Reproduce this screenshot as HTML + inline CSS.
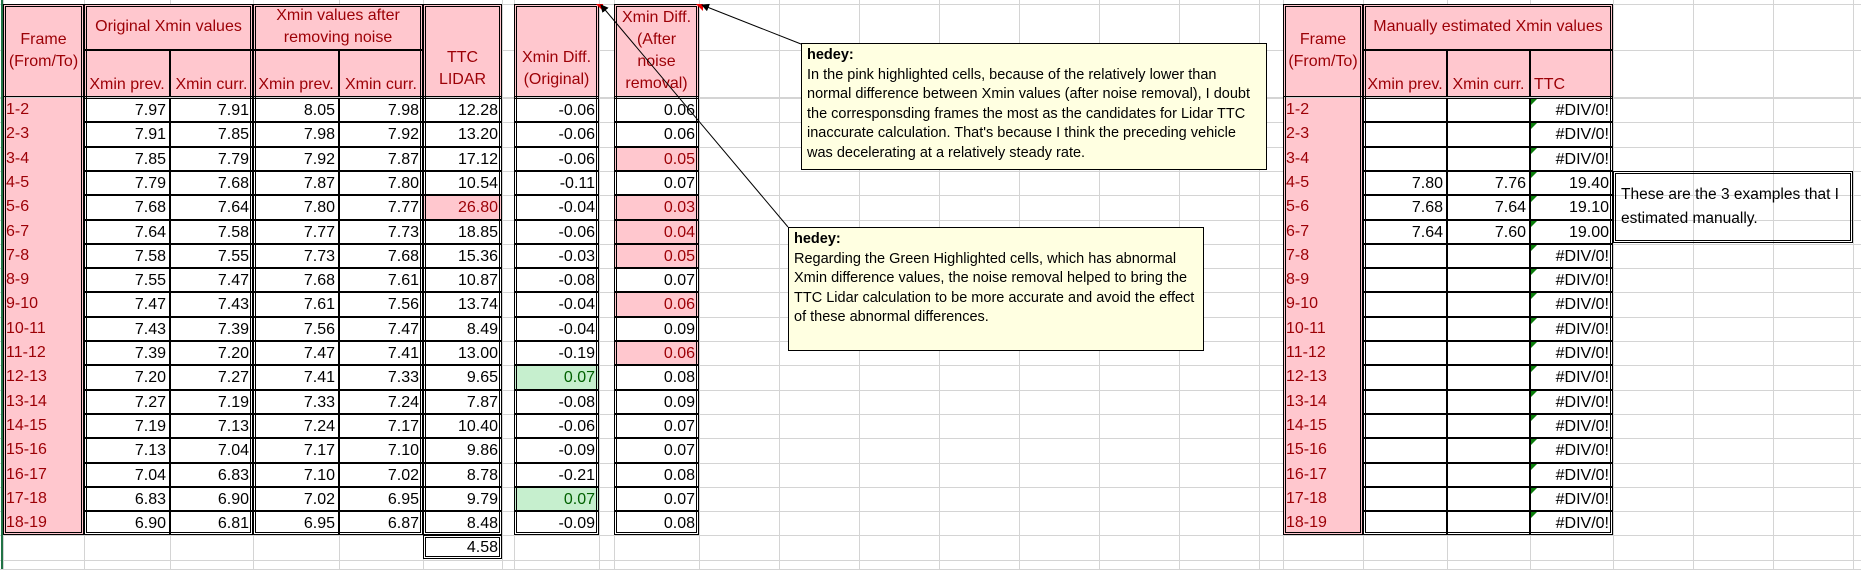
<!DOCTYPE html>
<html><head><meta charset="utf-8"><style>
body{margin:0;width:1861px;height:569px;overflow:hidden;background:#fff;font-family:"Liberation Sans",sans-serif;position:relative}
.c{position:absolute;box-sizing:border-box;font-size:16px;line-height:24px;white-space:nowrap;overflow:visible;padding:0 3px}
.num{text-align:right}
.pk{background:#ffc7ce;color:#9c0006}
.gr{background:#c6efce;color:#006100}
.h{background:#ffc7ce;color:#9c0006;text-align:center;line-height:22px;white-space:normal}
.b{border:1px solid #000}
.gl{position:absolute;background:#d4d4d4}
.box{position:absolute;border:2px solid #000;box-sizing:border-box}
.note{position:absolute;background:#ffffe1;border:1px solid #000;box-sizing:border-box;font-size:14.5px;line-height:19.5px;padding:2px 5px;color:#000;white-space:nowrap}
.tri{position:absolute;width:0;height:0}
</style></head><body>
<div id="grid"></div>
<div id="cells"></div>
<svg style="position:absolute;left:0;top:0" width="1861" height="569">
<defs><marker id="ah" markerWidth="8" markerHeight="8" refX="7" refY="4" orient="auto"><path d="M0,0 L8,4 L0,8 z" fill="#000"/></marker></defs>
<line x1="801" y1="44" x2="702" y2="5" stroke="#000" stroke-width="1" marker-end="url(#ah)"/>
<line x1="788" y1="227" x2="601" y2="5" stroke="#000" stroke-width="1" marker-end="url(#ah)"/>
</svg>
<div class="note" style="left:801px;top:43px;width:466px;height:127px"><b>hedey:</b><br>In the pink highlighted cells, because of the relatively lower than<br>normal difference between Xmin values (after noise removal), I doubt<br>the corresponsding frames the most as the candidates for Lidar TTC<br>inaccurate calculation. That's because I think the preceding vehicle<br>was decelerating at a relatively steady rate.</div>
<div class="note" style="left:788px;top:227px;width:416px;height:124px"><b>hedey:</b><br>Regarding the Green Highlighted cells, which has abnormal<br>Xmin difference values, the noise removal helped to bring the<br>TTC Lidar calculation to be more accurate and avoid the effect<br>of these abnormal differences.</div>
<div class="box" style="left:1613px;top:171px;width:240px;height:72px;border:3px double #000;font-size:15.5px;line-height:24px;padding:9px 5px;white-space:nowrap">These are the 3 examples that I<br>estimated manually.</div>
<script>
const frames=["1-2","2-3","3-4","4-5","5-6","6-7","7-8","8-9","9-10","10-11","11-12","12-13","13-14","14-15","15-16","16-17","17-18","18-19"];
const origPrev=[7.97,7.91,7.85,7.79,7.68,7.64,7.58,7.55,7.47,7.43,7.39,7.20,7.27,7.19,7.13,7.04,6.83,6.90];
const origCurr=[7.91,7.85,7.79,7.68,7.64,7.58,7.55,7.47,7.43,7.39,7.20,7.27,7.19,7.13,7.04,6.83,6.90,6.81];
const nrPrev=[8.05,7.98,7.92,7.87,7.80,7.77,7.73,7.68,7.61,7.56,7.47,7.41,7.33,7.24,7.17,7.10,7.02,6.95];
const nrCurr=[7.98,7.92,7.87,7.80,7.77,7.73,7.68,7.61,7.56,7.47,7.41,7.33,7.24,7.17,7.10,7.02,6.95,6.87];
const ttc=[12.28,13.20,17.12,10.54,26.80,18.85,15.36,10.87,13.74,8.49,13.00,9.65,7.87,10.40,9.86,8.78,9.79,8.48];
const diffOrig=[-0.06,-0.06,-0.06,-0.11,-0.04,-0.06,-0.03,-0.08,-0.04,-0.04,-0.19,0.07,-0.08,-0.06,-0.09,-0.21,0.07,-0.09];
const diffNr=[0.06,0.06,0.05,0.07,0.03,0.04,0.05,0.07,0.06,0.09,0.06,0.08,0.09,0.07,0.07,0.08,0.07,0.08];
const pinkNr=[2,4,5,6,8,10];
const greenOrig=[11,16];
const pinkTtc=[4];
const manPrev={3:7.80,4:7.68,5:7.64};
const manCurr={3:7.76,4:7.64,5:7.60};
const manTtc={3:"19.40",4:"19.10",5:"19.00"};
const RH=24.3,R0=98;
const g=document.getElementById('grid'),C=document.getElementById('cells');
const vx=[3,84,170,253,339,423,502,514,599,614,699,779,859,939,1019,1099,1179,1259,1283,1363,1447,1530,1613,1693,1773,1853];
vx.forEach(x=>{const d=document.createElement('div');d.className='gl';d.style.cssText=`left:${x}px;top:0;width:1px;height:569px`;

g.appendChild(d);});
const hy=[4,50,97];for(let i=0;i<=19;i++)hy.push(Math.round(R0+i*RH));hy.push(569);
hy.forEach(y=>{const d=document.createElement('div');d.className='gl';d.style.cssText=`left:0;top:${y}px;width:1861px;height:1px`;

g.appendChild(d);});
const gline=document.createElement('div');gline.style.cssText='position:absolute;left:1px;top:0;width:2px;height:569px;background:#217346';

g.appendChild(gline);
function cell(x,y,w,h,txt,cls,name){const d=document.createElement('div');d.className='c '+cls;d.style.cssText=`left:${x}px;top:${y}px;width:${w}px;height:${h}px`;d.innerHTML=txt;

C.appendChild(d);return d;}
function hdr(x,y,w,h,txt,name,va){const d=cell(x,y,w,h,txt,'h b',name);d.style.display='flex';d.style.alignItems=va||'center';d.style.justifyContent='center';return d;}
function box(x,y,w,h){const d=document.createElement('div');d.className='box';d.style.cssText=`left:${x}px;top:${y}px;width:${w}px;height:${h}px;border:3px double #000`;

C.appendChild(d);}
const bot=Math.round(R0+18*RH);
hdr(3,4,81,93,'Frame (From/To)','frame-header');
hdr(84,4,169,46,'Original Xmin values','original-xmin-header');
hdr(253,4,170,46,'Xmin values after removing noise','denoised-xmin-header');
hdr(84,50,86,47,'Xmin prev.','orig-prev-header','flex-end');
hdr(170,50,83,47,'Xmin curr.','orig-curr-header','flex-end');
hdr(253,50,86,47,'Xmin prev.','nr-prev-header','flex-end');
hdr(339,50,84,47,'Xmin curr.','nr-curr-header','flex-end');
hdr(423,4,79,93,'<span style="padding-top:36px">TTC<br>LIDAR</span>','ttc-lidar-header');
hdr(514,4,85,93,'<span style="padding-top:36px">Xmin Diff.<br>(Original)</span>','diff-orig-header');
hdr(614,4,85,93,'Xmin Diff. (After noise removal)','diff-nr-header');
hdr(1283,4,80,93,'Frame (From/To)','manual-frame-header');
hdr(1363,4,250,46,'Manually estimated Xmin values','manual-header');
hdr(1363,50,84,47,'Xmin prev.','manual-prev-header','flex-end');
hdr(1447,50,83,47,'Xmin curr.','manual-curr-header','flex-end');
const th=hdr(1530,50,83,47,'TTC','manual-ttc-header','flex-end');th.style.justifyContent='flex-start';
for(let i=0;i<18;i++){const y=Math.round(R0+i*RH),h=Math.round(R0+(i+1)*RH)-y;
cell(3,y,81,h,frames[i],'pk','frame-cell');
cell(84,y,86,h,origPrev[i].toFixed(2),'num b','orig-prev-cell');
cell(170,y,83,h,origCurr[i].toFixed(2),'num b','orig-curr-cell');
cell(253,y,86,h,nrPrev[i].toFixed(2),'num b','nr-prev-cell');
cell(339,y,84,h,nrCurr[i].toFixed(2),'num b','nr-curr-cell');
cell(423,y,79,h,ttc[i].toFixed(2),'num b'+(pinkTtc.includes(i)?' pk':''),'ttc-cell');
cell(514,y,85,h,diffOrig[i].toFixed(2),'num b'+(greenOrig.includes(i)?' gr':''),'diff-orig-cell');
cell(614,y,85,h,diffNr[i].toFixed(2),'num b'+(pinkNr.includes(i)?' pk':''),'diff-nr-cell');
cell(1283,y,80,h,frames[i],'pk','manual-frame-cell');
cell(1363,y,84,h,manPrev[i]!==undefined?manPrev[i].toFixed(2):'','num b','manual-prev-cell');
cell(1447,y,83,h,manCurr[i]!==undefined?manCurr[i].toFixed(2):'','num b','manual-curr-cell');
cell(1530,y,83,h,manTtc[i]||'#DIV/0!','num b','manual-ttc-cell');
const t=document.createElement('div');t.className='tri';t.style.cssText=`left:1531px;top:${y+1}px;border-top:6px solid #0a7d0a;border-right:6px solid transparent`;

C.appendChild(t);}
cell(423,bot,79,24,'4.58','num b','ttc-total-cell');
box(3,4,81,bot-4);box(84,4,169,bot-4);box(253,4,170,bot-4);box(423,4,79,bot-4);box(423,bot,79,24);
box(514,4,85,bot-4);box(614,4,85,bot-4);box(1283,4,80,bot-4);box(1363,4,250,bot-4);
[[596,4],[696,4]].forEach(p=>{const t=document.createElement('div');t.className='tri';t.style.cssText=`left:${p[0]}px;top:${p[1]}px;border-top:7px solid #e00;border-left:7px solid transparent`;

C.appendChild(t);});
</script>
</body></html>
